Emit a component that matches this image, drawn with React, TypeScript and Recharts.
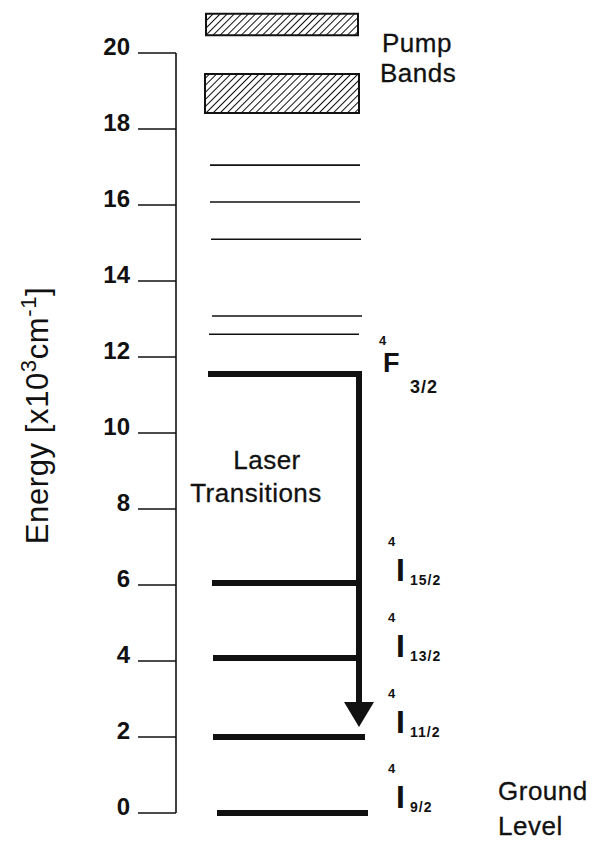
import React from 'react';
import {
  ComposedChart,
  XAxis,
  YAxis,
  Label,
  ReferenceArea,
  ReferenceLine,
  Scatter,
} from 'recharts';

// energy levels in units of 10^3 cm^-1, x is an arbitrary 0..100 horizontal scale
const yTicks = [0, 2, 4, 6, 8, 10, 12, 14, 16, 18, 20];

const pumpBands = [
  { from: 20.47, to: 21.03, x1: 7.5, x2: 45.5 },
  { from: 18.42, to: 19.45, x1: 7.25, x2: 45.75 },
];

const thinLevels = [
  { energy: 17.05, x1: 8.5, x2: 46 },
  { energy: 16.08, x1: 8.5, x2: 46 },
  { energy: 15.1, x1: 8.75, x2: 46.25 },
  { energy: 13.08, x1: 9, x2: 46.5 },
  { energy: 12.6, x1: 8.25, x2: 45.75 },
];

const thickLevels = [
  { energy: 11.55, x1: 8, x2: 46.5 },
  { energy: 6.05, x1: 9, x2: 45.75 },
  { energy: 4.08, x1: 9.25, x2: 45.75 },
  { energy: 2.0, x1: 9.25, x2: 47.25 },
  { energy: 0, x1: 10.25, x2: 48 },
];

const transition = { x: 45.75, from: 11.55, to: 2.26 };

const termLabels = [
  { x: 52.25, energy: 11.6, letter: 'F', sup: '4', sub: '3/2' },
  { x: 55.5, energy: 6.1, letter: 'I', sup: '4', sub: '15/2' },
  { x: 55.5, energy: 4.1, letter: 'I', sup: '4', sub: '13/2' },
  { x: 55.5, energy: 2.1, letter: 'I', sup: '4', sub: '11/2' },
  { x: 55.5, energy: 0.13, letter: 'I', sup: '4', sub: '9/2' },
];

const sideLabels = [
  { x: 51.5, energy: 20.03, text: 'Pump' },
  { x: 51, energy: 19.24, text: 'Bands' },
  { x: 80.5, energy: 0.34, text: 'Ground' },
  { x: 80.5, energy: -0.58, text: 'Level' },
];

const centerLabels = [
  { x: 22.75, energy: 9.05, text: 'Laser' },
  { x: 20, energy: 8.18, text: 'Transitions' },
];

const FONT = '"Liberation Sans", Arial, Helvetica, sans-serif';
const INK = '#111';

const YTick = ({ x, y, payload }: any) => (
  <text x={x} y={y + 2} textAnchor="end" fontFamily={FONT} fontSize={24} fontWeight="bold" fill={INK}>
    {payload.value}
  </text>
);

const AxisTitle = ({ viewBox }: any) => {
  const x = viewBox.x + 48;
  const y = viewBox.y + viewBox.height / 2 - 8;
  return (
    <text
      x={x}
      y={y}
      transform={`rotate(-90, ${x}, ${y})`}
      textAnchor="middle"
      fontFamily={FONT}
      fontSize={31}
      letterSpacing={0.6}
      fill={INK}
    >
      Energy [x10
      <tspan dy={-12} fontSize={22}>3</tspan>
      <tspan dy={12}>cm</tspan>
      <tspan dy={-12} fontSize={22}>-1</tspan>
      <tspan dy={12}>]</tspan>
    </text>
  );
};

const TermShape = ({ cx, cy, payload }: any) => {
  const isF = payload.letter === 'F';
  return (
    <g fontFamily={FONT} fontWeight="bold" fill={INK}>
      <text x={cx - (isF ? 6 : 10)} y={cy - (isF ? 27 : 35)} fontSize={13}>
        {payload.sup}
      </text>
      <text x={cx - 2} y={cy} fontSize={isF ? 27 : 32}>
        {payload.letter}
      </text>
      <text x={cx + (isF ? 25 : 12)} y={cy + (isF ? 21 : 4)} fontSize={isF ? 18 : 14} letterSpacing={1}>
        {payload.sub}
      </text>
    </g>
  );
};

const SideText = ({ cx, cy, payload }: any) => (
  <text x={cx} y={cy} fontFamily={FONT} fontSize={26} letterSpacing={0.5} fill={INK} stroke={INK} strokeWidth={0.3}>
    {payload.text}
  </text>
);

const CenterText = ({ cx, cy, payload }: any) => (
  <text
    x={cx}
    y={cy}
    textAnchor="middle"
    fontFamily={FONT}
    fontSize={26}
    letterSpacing={0.5}
    fill={INK}
    stroke={INK}
    strokeWidth={0.3}
  >
    {payload.text}
  </text>
);

const ArrowHead = ({ cx, cy }: any) => (
  <polygon points={`${cx},${cy} ${cx - 15},${cy - 25} ${cx + 15},${cy - 25}`} fill={INK} />
);

export default function App() {
  return (
    <div style={{ position: 'absolute', left: 0, top: 0, background: '#fff' }}>
      <svg width={0} height={0} style={{ position: 'absolute' }}>
        <defs>
          <pattern id="hatch" width={5} height={5} patternUnits="userSpaceOnUse" patternTransform="rotate(45)">
            <rect width={5} height={5} fill="#fff" />
            <line x1={0} y1={0} x2={0} y2={5} stroke={INK} strokeWidth={2} />
          </pattern>
        </defs>
      </svg>
      <ComposedChart width={593} height={843} margin={{ top: 5.5, right: 17, bottom: 1.5, left: 0 }}>
        <XAxis type="number" dataKey="x" domain={[0, 100]} hide />
        <YAxis
          type="number"
          dataKey="energy"
          domain={[-0.75, 21.25]}
          ticks={yTicks}
          width={176}
          axisLine={false}
          tickLine={{ stroke: INK, strokeWidth: 1.5 }}
          tickSize={38}
          tickMargin={8}
          tick={YTick}
          interval={0}
        >
          <Label content={AxisTitle} />
        </YAxis>

        <ReferenceLine
          segment={[{ x: 0, y: 0 }, { x: 0, y: 20 }]}
          stroke={INK}
          strokeWidth={1.6}
          ifOverflow="visible"
        />

        {pumpBands.map((b, i) => (
          <ReferenceArea
            key={`band-${i}`}
            x1={b.x1}
            x2={b.x2}
            y1={b.from}
            y2={b.to}
            fill="url(#hatch)"
            fillOpacity={1}
            stroke={INK}
            strokeWidth={2}
          />
        ))}

        {thinLevels.map((l, i) => (
          <ReferenceLine
            key={`thin-${i}`}
            segment={[{ x: l.x1, y: l.energy }, { x: l.x2, y: l.energy }]}
            stroke={INK}
            strokeWidth={1.6}
          />
        ))}

        {thickLevels.map((l, i) => (
          <ReferenceLine
            key={`thick-${i}`}
            segment={[{ x: l.x1, y: l.energy }, { x: l.x2, y: l.energy }]}
            stroke={INK}
            strokeWidth={6}
          />
        ))}

        <ReferenceLine
          segment={[{ x: transition.x, y: transition.from + 0.08 }, { x: transition.x, y: transition.to + 0.25 }]}
          stroke={INK}
          strokeWidth={6}
        />
        <Scatter
          data={[{ x: transition.x, energy: transition.to }]}
          dataKey="energy"
          shape={ArrowHead}
          isAnimationActive={false}
        />

        <Scatter data={termLabels} dataKey="energy" shape={TermShape} isAnimationActive={false} />
        <Scatter data={sideLabels} dataKey="energy" shape={SideText} isAnimationActive={false} />
        <Scatter data={centerLabels} dataKey="energy" shape={CenterText} isAnimationActive={false} />
      </ComposedChart>
    </div>
  );
}
